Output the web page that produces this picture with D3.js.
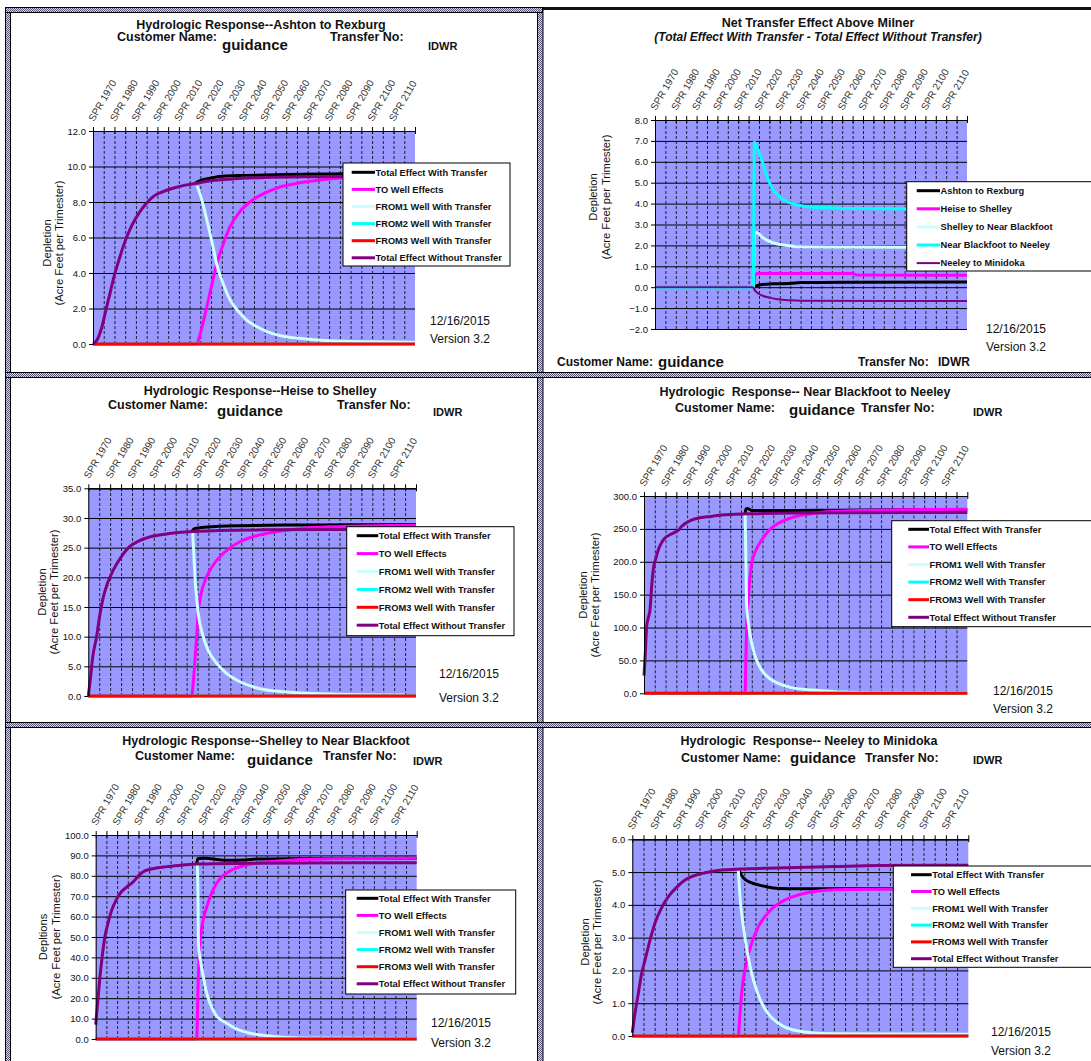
<!DOCTYPE html>
<html>
<head>
<meta charset="utf-8">
<script src="https://cdn.jsdelivr.net/npm/d3@7"></script>
<style>
body{margin:0;background:#fff}
svg{display:block;font-family:"Liberation Sans",Arial,sans-serif}
</style>
</head>
<body>
<svg id="chart" width="1091" height="1061"></svg>
<script>
// ---- data: [year, acre feet per trimester] ----
var yearTicks=[1970,1975,1980,1985,1990,1995,2000,2005,2010,2015,2020,2025,2030,2035,2040,2045,2050,2055,2060,2065,2070,2075,2080,2085,2090,2095,2100,2105,2110,2115,2120];
var yearLabels=[1970,1980,1990,2000,2010,2020,2030,2040,2050,2060,2070,2080,2090,2100,2110];
var wellNames=["Total Effect With Transfer","TO Well Effects","FROM1 Well With Transfer","FROM2 Well With Transfer","FROM3 Well With Transfer","Total Effect Without Transfer"];
var reachNames=["Ashton to Rexburg","Heise to Shelley","Shelley to Near Blackfoot","Near Blackfoot to Neeley","Neeley to Minidoka"];
var zeroLine=[[1970,0],[2120,0]];

// Ashton to Rexburg
var ashtonWith=[[2017.5,9.05],[2020,9.2],[2025,9.35],[2030,9.45],[2040,9.5],[2050,9.52],[2060,9.55],[2080,9.58],[2100,9.6],[2120,9.6]];
var ashtonTo=[[1970,0],[2018.3,0],[2020,0.6],[2023,2.1],[2025.5,3.4],[2027.6,4.5],[2030,5.4],[2033.8,6.6],[2038,7.4],[2043,8.0],[2050,8.5],[2056,8.8],[2063,9.0],[2070,9.15],[2080,9.3],[2090,9.38],[2100,9.42],[2120,9.45]];
var ashtonFrom1=[[2018.5,8.9],[2020,8.4],[2023,7.0],[2025.5,5.7],[2027.6,4.5],[2030,3.6],[2033.8,2.5],[2038,1.8],[2041.6,1.35],[2046,1.0],[2051,0.7],[2058,0.45],[2066,0.32],[2080,0.18],[2100,0.12],[2120,0.1]];
var ashtonWithout=[[1970,0],[1972,0.25],[1974,0.9],[1976,1.9],[1978,2.9],[1980,3.9],[1982,4.7],[1984.1,5.5],[1987,6.4],[1990,7.1],[1994,7.8],[1998,8.3],[2003,8.6],[2008,8.8],[2013,8.95],[2018,9.05],[2025,9.2],[2035,9.3],[2050,9.38],[2070,9.42],[2120,9.45]];

// Net transfer effect above Milner
var netAshton=[[1970,0],[2017.3,0],[2019,0.07],[2022,0.13],[2026,0.16],[2035,0.18],[2040,0.22],[2060,0.24],[2120,0.25]];
var netHeise=[[1970,0],[2017.3,0],[2018,0.6],[2020,0.65],[2040,0.66],[2065,0.66],[2067,0.58],[2120,0.57]];
var netShelley=[[1970,0],[2017.2,0],[2017.8,2.6],[2019,2.6],[2022,2.35],[2026,2.15],[2030,2.05],[2035,1.98],[2039,1.93],[2060,1.92],[2120,1.9]];
var netNearBlackfoot=[[1970,0],[2017.2,0],[2017.8,6.95],[2019,6.7],[2021.3,6.1],[2023.5,5.4],[2026,4.8],[2029,4.4],[2032.5,4.15],[2036,4.0],[2039,3.92],[2045,3.83],[2055,3.8],[2065,3.76],[2120,3.73]];
var netNeeley=[[1970,0],[2017,0],[2018,-0.15],[2019.7,-0.3],[2022,-0.42],[2025,-0.5],[2029,-0.58],[2035,-0.63],[2040,-0.65],[2120,-0.66]];

// Heise to Shelley
var heiseWith=[[2017.5,27.8],[2018.5,28.2],[2022,28.4],[2030,28.6],[2040,28.7],[2060,28.8],[2090,28.85],[2120,28.9]];
var heiseTo=[[1970,0],[2017.3,0],[2018,2],[2019,7],[2019.6,10],[2020.3,14],[2021.5,17],[2024.2,20.1],[2027,22],[2030.3,23.5],[2035,25],[2039.4,26],[2045,26.8],[2051.7,27.4],[2060,27.9],[2067,28.2],[2080,28.5],[2090,28.6],[2120,28.8]];
var heiseFrom1=[[2017.8,27.5],[2018.3,24],[2019,19],[2019.6,16.5],[2020.3,14],[2022.6,10],[2025,7.6],[2028.8,5.5],[2033,3.9],[2039.4,2.4],[2045,1.6],[2051.7,1.0],[2060,0.7],[2067,0.5],[2085,0.3],[2100,0.2],[2115,0.15]];
var heiseWithout=[[1970,0],[1971,3],[1972,6.5],[1973.8,10],[1975,13],[1976.9,16.7],[1979,19.2],[1981.4,21.2],[1985,23.4],[1989,25.2],[1993,26.1],[1998,26.8],[2004,27.2],[2010,27.5],[2018,27.7],[2030,27.9],[2050,28.0],[2080,28.05],[2120,28.1]];

// Near Blackfoot to Neeley
var nbWith=[[2016.9,273],[2017.3,280],[2018,281],[2020,278],[2030,278],[2040,278],[2060,278.5],[2090,279],[2120,279]];
var nbTo=[[1970,0],[2016.9,0],[2017.3,60],[2017.7,110],[2018.4,142],[2019,170],[2020,198],[2022,218],[2024.6,233],[2028,248],[2032.3,258.5],[2036,264],[2040,268.6],[2047,272.5],[2055.5,276],[2070,278],[2090,279],[2120,280]];
var nbFrom1=[[2016.9,272],[2017.2,220],[2017.6,137],[2018.5,105],[2020,76],[2022,52],[2024.6,35.4],[2028,23],[2032.3,15.2],[2038,9],[2047.7,5],[2055,3.5],[2062,2],[2080,1],[2120,0.5]];
var nbWithout=[[1970,27],[1970.6,60],[1971.2,101],[1972,115],[1972.8,127],[1973.5,160],[1974.3,188],[1975.5,205],[1976.6,218],[1978,228],[1979.7,236],[1982,241],[1984.4,245],[1986,248],[1987.5,254],[1989.5,259],[1992,263.5],[1996,267],[2001.4,269],[2006,271],[2010.7,272],[2020,273],[2040,274],[2120,275]];

// Shelley to Near Blackfoot
var sbWith=[[2017.2,86],[2017.8,88.5],[2022,88.6],[2025,88.2],[2030,87.6],[2040,87.8],[2045,88.2],[2060,88.4],[2120,88.6]];
var sbTo=[[1970,0],[2017.2,0],[2017.8,25],[2018.7,46.9],[2020,57],[2021.9,64.8],[2024,71],[2026.5,76.3],[2030,80.5],[2034.3,83.2],[2040,85.2],[2046.8,86.4],[2055,87.2],[2062,87.7],[2080,88.3],[2120,88.6]];
var sbFrom1=[[2017.5,85.8],[2017.8,70],[2018,46.9],[2019,38],[2020.3,30.5],[2021.5,24],[2023.4,17.5],[2026,12],[2031.2,7.7],[2036,4.8],[2042.2,2.8],[2050,1.6],[2055.7,1.0],[2070,0.5],[2120,0.3]];
var sbWithout=[[1970,7],[1971,19],[1972,30.5],[1973,40],[1974.3,50.2],[1975.8,57],[1977.5,63.2],[1979.5,68],[1981.4,71.4],[1984.5,74.5],[1987.6,77.1],[1990,80],[1992.2,82],[1996,83.3],[2003.2,84.5],[2010,85.2],[2017.2,85.8],[2040,86.1],[2120,86.4]];

// Neeley to Minidoka
var nmWith=[[2017.3,5.08],[2018,5.0],[2019,4.88],[2020.3,4.78],[2023,4.68],[2026.3,4.61],[2030,4.55],[2035.2,4.5],[2045,4.49],[2120,4.5]];
var nmTo=[[1970,0],[2017.3,0],[2018,0.6],[2018.8,1.3],[2020.5,2.1],[2023.3,2.83],[2026,3.3],[2029.2,3.64],[2033,3.92],[2038.2,4.15],[2044,4.3],[2050.1,4.4],[2057,4.45],[2065,4.47],[2120,4.5]];
var nmFrom1=[[2017.3,5.08],[2018,4.3],[2019.6,3.33],[2021.5,2.5],[2023.3,1.91],[2025.5,1.4],[2027.8,1.0],[2031,0.65],[2035.2,0.39],[2040,0.22],[2050,0.1],[2060,0.07],[2120,0.05]];
var nmWithout=[[1970,0.1],[1971,0.6],[1972.7,1.3],[1974,1.85],[1975.7,2.32],[1978,2.95],[1980.1,3.44],[1983,3.9],[1986.1,4.25],[1990,4.55],[1993.5,4.76],[1998,4.9],[2002.5,4.98],[2008,5.05],[2014.4,5.08],[2030,5.12],[2060,5.17],[2080,5.2],[2120,5.21]];

var wellColors=["#000000","#ff00ff","#ccffff","#00ffff","#ff0000","#800080"];
var reachColors=["#000000","#ff00ff","#ccffff","#00ffff","#800080"];

// ---- layout of the six panels ----
var panels=[
 {plot:[93,415,131,344],yDom:[0,12],yStep:2,ylab:["Depletion",51,63,243],
  series:[ashtonWith,ashtonTo,ashtonFrom1,zeroLine,zeroLine,ashtonWithout],names:wellNames,colors:wellColors,
  legend:{x:343,y:163,w:167,h:103,r0:172.3,dy:17.1,l0:351.7,l1:375},
  date:[460,325,343],
  texts:[["Hydrologic Response--Ashton to Rexburg",261,29,12.5,"middle"],["Customer Name:",117,41,12.5],["guidance",222,50,15],["Transfer No:",330,41,12.5],["IDWR",428,50,11]]},
 {plot:[655,967,120,329],yDom:[-2,8],yStep:1,ylab:["Depletion",597,610,197],thin:4,
  series:[netAshton,netHeise,netShelley,netNearBlackfoot,netNeeley],names:reachNames,colors:reachColors,
  legend:{x:906.7,y:181.7,w:200,h:89.3,r0:190.7,dy:18.1,l0:916.7,l1:940},
  date:[1016,333,350.7],
  texts:[["Net Transfer Effect Above Milner",818,27,12.5,"middle"],["(Total Effect With Transfer - Total Effect Without Transfer)",818,41,12,"middle","italic"],
         ["Customer Name:",557,366,12],["guidance",658,367,15],["Transfer No:",858,366,12],["IDWR",938,366,12]]},
 {plot:[88.3,416,488.3,696],yDom:[0,35],yStep:5,ylab:["Depletion",46,58,592],
  series:[heiseWith,heiseTo,heiseFrom1,zeroLine,zeroLine,heiseWithout],names:wellNames,colors:wellColors,
  legend:{x:346.7,y:526.7,w:167.3,h:109,r0:535.7,dy:17.9,l0:356.7,l1:378.3},
  date:[469,678,701.7],
  texts:[["Hydrologic Response--Heise to Shelley",260,395,12.5,"middle"],["Customer Name:",108,409,12.5],["guidance",217,416,15],["Transfer No:",337,409,12.5],["IDWR",433,416,11]]},
 {plot:[644,967.3,496,693.3],yDom:[0,300],yStep:50,ylab:["Depletion",587,599,595],
  series:[nbWith,nbTo,nbFrom1,zeroLine,zeroLine,nbWithout],names:wellNames,colors:wellColors,
  legend:{x:891.7,y:520.7,w:220,h:106,r0:529.3,dy:17.6,l0:908.3,l1:929},
  date:[1023,695,712.5],
  texts:[["Hydrologic  Response-- Near Blackfoot to Neeley",805,396,12.5,"middle"],["Customer Name:",675,411.7,12.5],["guidance",789,415,15],["Transfer No:",861,411.7,12.5],["IDWR",973,415.7,11]]},
 {plot:[95.7,416.7,835,1039],yDom:[0,100],yStep:10,ylab:["Depltions",47,60,937],
  series:[sbWith,sbTo,sbFrom1,zeroLine,zeroLine,sbWithout],names:wellNames,colors:wellColors,
  legend:{x:345.7,y:890,w:170,h:104,r0:898.3,dy:17.1,l0:356.7,l1:378.3},
  date:[461,1026.7,1046.7],
  texts:[["Hydrologic Response--Shelley to Near Blackfoot",266,745.3,12.5,"middle"],["Customer Name:",135,760,12.5],["guidance",247,765,15],["Transfer No:",323,760,12.5],["IDWR",413,765,11]]},
 {plot:[632.3,968.3,839.3,1036],yDom:[0,6],yStep:1,ylab:["Depletion",589,601,942],
  series:[nmWith,nmTo,nmFrom1,zeroLine,zeroLine,nmWithout],names:wellNames,colors:wellColors,
  legend:{x:893.3,y:866,w:220,h:101.3,r0:874.7,dy:16.8,l0:911,l1:931.7},
  date:[1021,1036,1055],
  texts:[["Hydrologic  Response-- Neeley to Minidoka",809,745,12.5,"middle"],["Customer Name:",681,761.7,12.5],["guidance",790,763,15],["Transfer No:",865,761.7,12.5],["IDWR",973,764,11]]}
];

var svg=d3.select("#chart");
svg.append("rect").attr("width",1091).attr("height",1061).attr("fill","#fff");

// checkered frame pattern
var defs=svg.append("defs");
var pat=defs.append("pattern").attr("id","hatch").attr("width",2).attr("height",2).attr("patternUnits","userSpaceOnUse");
pat.append("rect").attr("width",2).attr("height",2).attr("fill","#d4d4ea");
pat.append("rect").attr("width",1).attr("height",1).attr("fill","#56567a");
pat.append("rect").attr("x",1).attr("y",1).attr("width",1).attr("height",1).attr("fill","#56567a");

function band(x,y,w,h){
  svg.append("rect").attr("x",x).attr("y",y).attr("width",w).attr("height",h)
    .attr("fill","url(#hatch)").attr("stroke","#000").attr("stroke-width",1);
}
band(5.5,7.5,5,1060);
band(537.5,7.5,5.5,1060);
band(5.5,7.5,537,5);
band(5.5,372.5,1090,5);
band(5.5,722.5,1090,5);
svg.append("rect").attr("x",543).attr("y",7).attr("width",548).attr("height",3).attr("fill","#111");

panels.forEach(function(p){
  var x=d3.scaleLinear().domain([1970,2120]).range([p.plot[0],p.plot[1]]);
  var y=d3.scaleLinear().domain(p.yDom).range([p.plot[3],p.plot[2]]);
  var g=svg.append("g");
  var yTicks=d3.range(p.yDom[0],p.yDom[1]+p.yStep/2,p.yStep);

  g.append("rect").attr("x",p.plot[0]).attr("y",p.plot[2])
    .attr("width",p.plot[1]-p.plot[0]).attr("height",p.plot[3]-p.plot[2]).attr("fill","#9999ff");

  // dashed vertical grid
  g.append("g").attr("transform","translate(0,"+p.plot[3]+")")
    .call(d3.axisBottom(x).tickValues(yearTicks.slice(1,-1)).tickSize(-(p.plot[3]-p.plot[2])).tickFormat(""))
    .call(function(a){a.select(".domain").remove();
      a.selectAll("line").attr("stroke","#000").attr("stroke-width",0.8).attr("stroke-dasharray","3,2");});
  // solid horizontal grid
  g.append("g").attr("transform","translate("+p.plot[0]+",0)")
    .call(d3.axisRight(y).tickValues(yTicks).tickSize(p.plot[1]-p.plot[0]).tickFormat(""))
    .call(function(a){a.select(".domain").remove();
      a.selectAll("line").attr("stroke","#000").attr("stroke-width",1);});

  // series
  var line=d3.line().x(function(d){return x(d[0]);}).y(function(d){return y(d[1]);}).curve(d3.curveMonotoneX);
  p.series.forEach(function(s,i){
    g.append("path").datum(s).attr("d",line).attr("fill","none")
      .attr("stroke",p.colors[i]).attr("stroke-width",p.thin===i?2:3)
      .attr("stroke-linejoin","round");
  });

  // axes
  g.append("g").attr("transform","translate(0,"+p.plot[2]+")")
    .call(d3.axisTop(x).tickValues(yearTicks).tickSize(4).tickSizeOuter(0).tickFormat(""))
    .call(function(a){a.selectAll("line,path").attr("stroke","#000");});
  g.append("g").attr("transform","translate(0,"+p.plot[2]+")")
    .call(d3.axisBottom(x).tickValues(yearTicks).tickSize(3).tickSizeOuter(0).tickFormat(""))
    .call(function(a){a.selectAll("line,path").attr("stroke","#000");});
  g.append("g").attr("transform","translate("+p.plot[0]+",0)")
    .call(d3.axisLeft(y).tickValues(yTicks).tickSize(4).tickSizeOuter(0).tickPadding(3).tickFormat(d3.format(".1f")))
    .call(function(a){a.selectAll("line,path").attr("stroke","#000");
      a.selectAll("text").attr("font-size",9.5).attr("fill","#111").attr("font-family","Liberation Sans, Arial");});

  // rotated category labels
  g.selectAll(".xl").data(yearLabels).enter().append("text")
    .attr("transform",function(d){return "translate("+(x(d)+1)+","+(p.plot[2]-9)+") rotate(-60)";})
    .attr("font-size",10).attr("fill","#333").text(function(d){return "SPR "+d;});

  // axis title
  var yl=p.ylab;
  [[yl[0],yl[1]],["(Acre Feet per Trimester)",yl[2]]].forEach(function(t){
    g.append("text").attr("transform","translate("+t[1]+","+yl[3]+") rotate(-90)")
      .attr("text-anchor","middle").attr("font-size",11.2).attr("fill","#111").text(t[0]);
  });

  // legend
  var L=p.legend;
  g.append("rect").attr("x",L.x).attr("y",L.y).attr("width",L.w).attr("height",L.h)
    .attr("fill","#fff").attr("stroke","#000").attr("stroke-width",1);
  p.names.forEach(function(n,i){
    var ry=L.r0+i*L.dy;
    g.append("line").attr("x1",L.l0).attr("x2",L.l1).attr("y1",ry).attr("y2",ry)
      .attr("stroke",p.colors[i]).attr("stroke-width",p.thin===i?2:3);
    g.append("text").attr("x",L.l1+0.5).attr("y",ry+3.3).attr("font-size",9.3).attr("font-weight","bold")
      .attr("fill","#111").text(n);
  });

  // date and version
  g.append("text").attr("x",p.date[0]).attr("y",p.date[1]).attr("text-anchor","middle")
    .attr("font-size",12).attr("fill","#111").text("12/16/2015");
  g.append("text").attr("x",p.date[0]).attr("y",p.date[2]).attr("text-anchor","middle")
    .attr("font-size",12).attr("fill","#111").text("Version 3.2");

  // header texts
  p.texts.forEach(function(t){
    g.append("text").attr("x",t[1]).attr("y",t[2]).attr("font-size",t[3])
      .attr("font-weight","bold").attr("font-style",t[5]||"normal")
      .attr("text-anchor",t[4]||"start").style("white-space","pre")
      .attr("fill","#111").text(t[0]);
  });
});
</script>
</body>
</html>
